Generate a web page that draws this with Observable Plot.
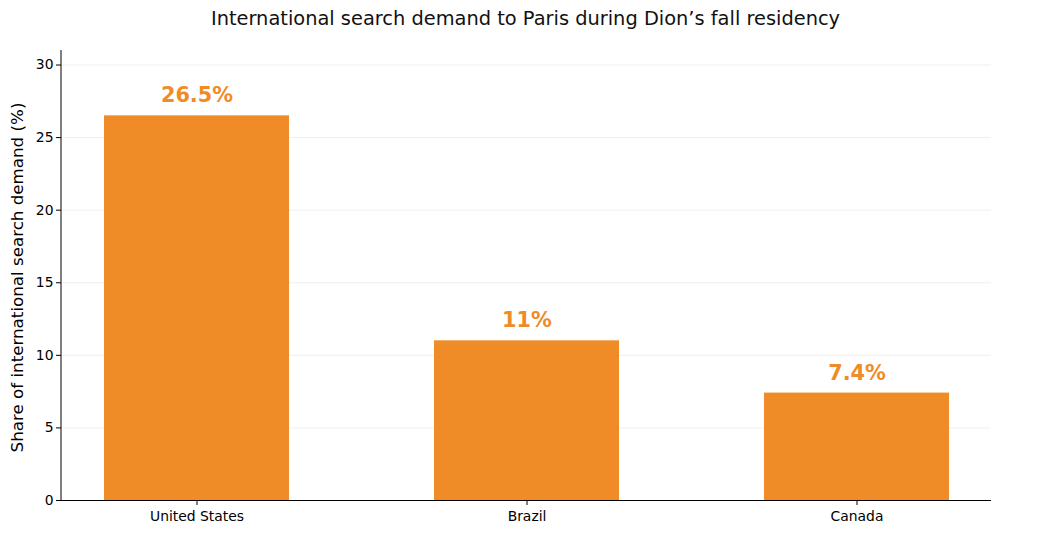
<!DOCTYPE html>
<html>
<head>
<meta charset="utf-8">
<script src="https://cdn.jsdelivr.net/npm/d3@7"></script>
<script src="https://cdn.jsdelivr.net/npm/@observablehq/plot@0.6"></script>
<style>
  body { margin: 0; background: #fff; font-family: "DejaVu Sans", sans-serif; }
  #title { width: 1051px; height: 40px; line-height: 38px; text-align: center; font-size: 19.4px; color: #111; }
  svg { display: block; }
</style>
</head>
<body>
<div id="title">International search demand to Paris during Dion’s fall residency</div>
<div id="chart"></div>
<script>
const countries = ["United States", "Brazil", "Canada"];
const shares = [26.5, 11, 7.4];
const labels = ["26.5%", "11%", "7.4%"];
const yTicks = [0, 5, 10, 15, 20, 25, 30];

const data = countries.map((c, i) => ({country: c, share: shares[i], label: labels[i]}));
const orange = "#F08C28";

const chart = Plot.plot({
  width: 1051,
  height: 500,
  marginTop: 10,
  marginBottom: 40,
  marginLeft: 61,
  marginRight: 60,
  style: {fontFamily: "DejaVu Sans, sans-serif", fontSize: "13.9px", color: "#000"},
  x: {domain: countries, paddingInner: 0.44, paddingOuter: 0.129, label: null},
  y: {domain: [0, 31], ticks: yTicks, label: null},
  marks: [
    Plot.gridY(yTicks, {stroke: "#ddd", strokeOpacity: 0.6, strokeWidth: 0.8}),
    Plot.barY(data, {x: "country", y: "share", fill: orange}),
    Plot.text(data, {x: "country", y: "share", text: "label", dy: -20, fill: orange, fontWeight: "bold", fontSize: 20.8}),
    Plot.axisX({tickSize: 5, tickPadding: 6, fontSize: 13.9}),
    Plot.axisY(yTicks, {tickSize: 5, tickPadding: 3, fontSize: 13.9, label: null}),
    Plot.ruleY([0], {stroke: "#000", strokeWidth: 1}),
    Plot.text(["Share of international search demand (%)"], {
      frameAnchor: "left", textAnchor: "middle", dx: -44, dy: 2, rotate: -90, fontSize: 16.7, fill: "#000"
    })
  ]
});
// left spine
const svg = d3.select(chart);
svg.append("line")
  .attr("x1", 61).attr("x2", 61).attr("y1", 10).attr("y2", 460)
  .attr("stroke", "#000").attr("stroke-width", 1);
document.getElementById("chart").appendChild(chart);
</script>
</body>
</html>
